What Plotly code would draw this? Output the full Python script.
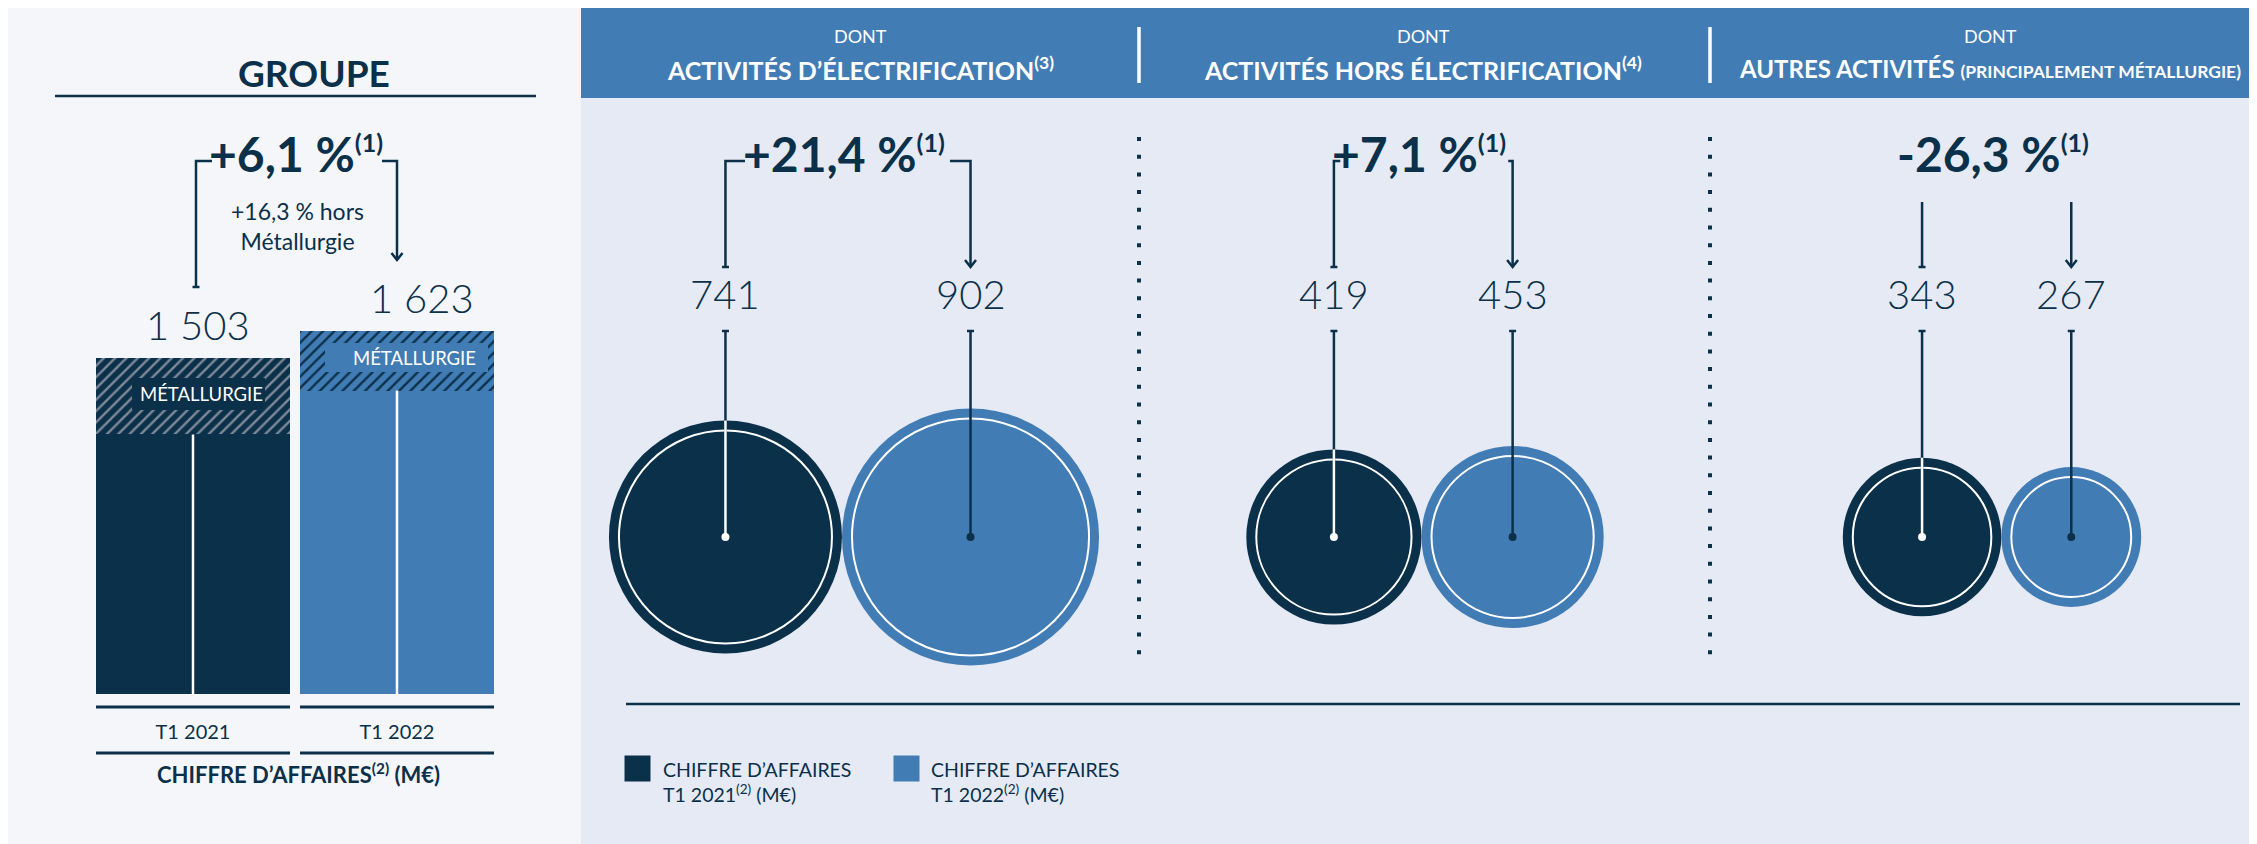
import math
import plotly.graph_objects as go

# ---------------- data ----------------
periods = ["T1 2021", "T1 2022"]
groupe_totals = [1503, 1623]
groupe_metallurgie = [343, 267]
groupe_growth = "+6,1 %"
groupe_note = "+16,3 % hors<br>Métallurgie"

segment_titles = [
    "ACTIVITÉS D’ÉLECTRIFICATION<sup>(3)</sup>",
    "ACTIVITÉS HORS ÉLECTRIFICATION<sup>(4)</sup>",
    "AUTRES ACTIVITÉS <span style='font-size:17.5px'>(PRINCIPALEMENT MÉTALLURGIE)</span>",
]
segment_2021 = [741, 419, 343]
segment_2022 = [902, 453, 267]
segment_growth = ["+21,4 %", "+7,1 %", "-26,3 %"]
legend_labels = ["CHIFFRE D’AFFAIRES<br>T1 2021<sup>(2)</sup> (M€)",
                 "CHIFFRE D’AFFAIRES<br>T1 2022<sup>(2)</sup> (M€)"]

# ---------------- style ----------------
NAVY = "#0B304A"
BLUE = "#427CB5"
LEFT_BG = "#F5F6FA"
RIGHT_BG = "#E6EAF4"
HATCH = "#7F8A99"
FONT = "Lato"

W, H = 2249, 836
OX, OY = 8, 8


def PX(x):
    return (x - OX) / W


def PY(y):
    return 1 - (y - OY) / H


def fmt(v):
    return f"{v:,}".replace(",", " ")


def B(t):
    return f"<b>{t}</b>"


fig = go.Figure()

# ---------------- bar chart (GROUPE) ----------------
SCALE = 0.2238  # px per M€
BAR_BOTTOM = 694
YMAX = 2000
base = [t - m for t, m in zip(groupe_totals, groupe_metallurgie)]
bar_cols = [NAVY, BLUE]
hatch_cols = [HATCH, NAVY]

fig.add_trace(go.Bar(x=periods, y=base, marker=dict(color=bar_cols, line=dict(width=0)),
                     showlegend=False, hoverinfo="skip"))
for p, m, bc, hc in zip(periods, groupe_metallurgie, bar_cols, hatch_cols):
    fig.add_trace(go.Bar(x=[p], y=[m],
                         marker=dict(color=bc, line=dict(width=0),
                                     pattern=dict(shape="/", fgcolor=hc, bgcolor=bc,
                                                  size=8, solidity=0.3, fgopacity=1,
                                                  fillmode="overlay")),
                         showlegend=False, hoverinfo="skip"))
sx, sy = [], []
for p, b in zip(periods, base):
    sx += [p, p, None]
    sy += [0, b, None]
fig.add_trace(go.Scatter(x=sx, y=sy, mode="lines", line=dict(color="white", width=2.5),
                         showlegend=False, hoverinfo="skip"))

# ---------------- bubble chart (segments) ----------------
K = 8.56          # diameter px per sqrt(M€)
CY = 537
pair_centers = [854, 1425, 1992]
x1s, x2s = [], []
for c, a, b in zip(pair_centers, segment_2021, segment_2022):
    r1, r2 = K * math.sqrt(a) / 2, K * math.sqrt(b) / 2
    x1s.append(c - r2)
    x2s.append(c + r1)

d21 = [K * math.sqrt(v) for v in segment_2021]
d22 = [K * math.sqrt(v) for v in segment_2022]

for xs, ds, col, name in [(x1s, d21, NAVY, periods[0]), (x2s, d22, BLUE, periods[1])]:
    fig.add_trace(go.Scatter(x=xs, y=[CY] * 3, mode="markers", name=name,
                             marker=dict(size=ds, color=col, opacity=1, line=dict(width=0)),
                             xaxis="x2", yaxis="y2", showlegend=False, hoverinfo="skip"))
    fig.add_trace(go.Scatter(x=xs, y=[CY] * 3, mode="markers",
                             marker=dict(size=[d - 20 for d in ds], color=col, opacity=1,
                                         line=dict(width=2, color="white")),
                             xaxis="x2", yaxis="y2", showlegend=False, hoverinfo="skip"))

# stems from value labels to centres
STEM_TOP = 331
lx, ly = [], []
for x in x1s + x2s:
    lx += [x, x, None, x - 3.5, x + 3.5, None]
    ly += [STEM_TOP, CY, None, STEM_TOP, STEM_TOP, None]
fig.add_trace(go.Scatter(x=lx, y=ly, mode="lines", line=dict(color=NAVY, width=2.5),
                         xaxis="x2", yaxis="y2", showlegend=False, hoverinfo="skip"))
wx, wy = [], []
for x, d in zip(x1s, d21):
    wx += [x, x, None]
    wy += [CY - d / 2, CY, None]
fig.add_trace(go.Scatter(x=wx, y=wy, mode="lines", line=dict(color="white", width=2.5),
                         xaxis="x2", yaxis="y2", showlegend=False, hoverinfo="skip"))
fig.add_trace(go.Scatter(x=x1s, y=[CY] * 3, mode="markers",
                         marker=dict(size=8, color="white", opacity=1),
                         xaxis="x2", yaxis="y2", showlegend=False, hoverinfo="skip"))
fig.add_trace(go.Scatter(x=x2s, y=[CY] * 3, mode="markers",
                         marker=dict(size=8, color=NAVY, opacity=1),
                         xaxis="x2", yaxis="y2", showlegend=False, hoverinfo="skip"))

# value labels
for xs, vals in [(x1s, segment_2021), (x2s, segment_2022)]:
    for x, v in zip(xs, vals):
        fig.add_annotation(x=x, y=294, xref="x2", yref="y2", text=fmt(v), showarrow=False,
                           xanchor="center", yanchor="middle",
                           font=dict(family=FONT, size=40, weight=300, color=NAVY))

# ---------------- growth brackets ----------------
BAR_C = [193, 397]
bx, by = [], []


def bracket(xl, xr, mid, gap_l, gap_r, top, bot_l, bot_r, horiz=True):
    global bx, by
    if horiz:
        bx += [mid - gap_l, xl, xl, None, mid + gap_r, xr, xr, None]
        by += [top, top, bot_l, None, top, top, bot_r, None]
    else:
        bx += [xl, xl, None, xr, xr, None]
        by += [top, bot_l, None, top, bot_r, None]
    bx += [xl - 3.5, xl + 3.5, None, xr - 5.5, xr, xr + 5.5, None]
    by += [bot_l, bot_l, None, bot_r - 7, bot_r, bot_r - 7, None]


gmid = (BAR_C[0] + BAR_C[1]) / 2
bracket(BAR_C[0] + 3, BAR_C[1], gmid, 83, 87, 161, 287, 260)
gaps = [(103, 102), (83, 85)]
for i in range(3):
    m = (x1s[i] + x2s[i]) / 2
    if i < 2:
        bracket(x1s[i], x2s[i], m, gaps[i][0], gaps[i][1], 161, 267, 267)
    else:
        bracket(x1s[i], x2s[i], m, 0, 0, 202, 267, 267, horiz=False)
fig.add_trace(go.Scatter(x=bx, y=by, mode="lines", line=dict(color=NAVY, width=2.5),
                         xaxis="x2", yaxis="y2", showlegend=False, hoverinfo="skip"))

SUP1 = "<sup><span style='font-size:25px'>(1)</span></sup>"
growth_pos = [(gmid + 1, groupe_growth)] + [((x1s[i] + x2s[i]) / 2 - 4, segment_growth[i]) for i in range(3)]
for x, g in growth_pos:
    fig.add_annotation(x=x, y=153, xref="x2", yref="y2", text=B(g + SUP1), showarrow=False,
                       xanchor="center", yanchor="middle",
                       font=dict(family=FONT, size=48, color=NAVY))

fig.add_annotation(x=297, y=226, xref="x2", yref="y2", text=groupe_note, showarrow=False,
                   xanchor="center", yanchor="middle", font=dict(family=FONT, size=23, color=NAVY))

# groupe value labels
for p, v, (xx, yy) in zip(periods, groupe_totals, [(198, 325), (422, 298)]):
    fig.add_annotation(x=xx, y=yy, xref="x2", yref="y2", text=fmt(v), showarrow=False,
                       xanchor="center", yanchor="middle",
                       font=dict(family=FONT, size=40, weight=300, color=NAVY))

# ---------------- decorations ----------------
shapes = []
# right panel + header
shapes.append(dict(type="rect", xref="paper", yref="paper", x0=PX(581), x1=1, y0=0, y1=PY(98),
                   fillcolor=RIGHT_BG, line=dict(width=0), layer="below"))
shapes.append(dict(type="rect", xref="paper", yref="paper", x0=PX(581), x1=1, y0=PY(98), y1=1,
                   fillcolor=BLUE, line=dict(width=0), layer="below"))
for xs_ in [1139, 1710]:
    shapes.append(dict(type="line", xref="paper", yref="paper", x0=PX(xs_), x1=PX(xs_),
                       y0=PY(27), y1=PY(83), line=dict(color="white", width=3.5)))
    shapes.append(dict(type="line", xref="paper", yref="paper", x0=PX(xs_), x1=PX(xs_),
                       y0=PY(137), y1=PY(665), line=dict(color=NAVY, width=4, dash="4px,13.7px")))
shapes.append(dict(type="line", xref="paper", yref="paper", x0=PX(626), x1=PX(2240),
                   y0=PY(704), y1=PY(704), line=dict(color=NAVY, width=2.5)))
# GROUPE underline
shapes.append(dict(type="line", xref="paper", yref="paper", x0=PX(55), x1=PX(536),
                   y0=PY(96), y1=PY(96), line=dict(color=NAVY, width=2.5)))
# lines under bars
for i in range(2):
    for yy in [707, 753]:
        shapes.append(dict(type="line", xref="x", yref="paper", x0=i - 0.4755, x1=i + 0.4755,
                           y0=PY(yy), y1=PY(yy), line=dict(color=NAVY, width=3)))
# métallurgie label boxes
for (x0, x1, y0, y1), col in [((132, 265, 378, 410), NAVY), ((325, 488, 343, 372), BLUE)]:
    shapes.append(dict(type="rect", xref="paper", yref="paper", x0=PX(x0), x1=PX(x1),
                       y0=PY(y1), y1=PY(y0), fillcolor=col, line=dict(width=0), layer="above"))
fig.update_layout(shapes=shapes)

for (xx, yy) in [(201, 394), (414, 358)]:
    fig.add_annotation(x=PX(xx), y=PY(yy), xref="paper", yref="paper", text="MÉTALLURGIE",
                       showarrow=False, xanchor="center", yanchor="middle",
                       font=dict(family=FONT, size=18.5, color="white"))

# titles
fig.add_annotation(x=PX(314), y=PY(73), xref="paper", yref="paper", text=B("GROUPE"), showarrow=False,
                   xanchor="center", yanchor="middle",
                   font=dict(family=FONT, size=37, color=NAVY))
for cx, title, sz in zip([860, 1423, 1990], segment_titles, [25, 25, 24]):
    fig.add_annotation(x=PX(cx), y=PY(36), xref="paper", yref="paper", text="DONT", showarrow=False,
                       xanchor="center", yanchor="middle", font=dict(family=FONT, size=18, color="white"))
    fig.add_annotation(x=PX(cx), y=PY(68), xref="paper", yref="paper", text=B(title), showarrow=False,
                       xanchor="center", yanchor="middle",
                       font=dict(family=FONT, size=sz, color="white"))

fig.add_annotation(x=PX(298), y=PY(773), xref="paper", yref="paper",
                   text=B("CHIFFRE D’AFFAIRES<sup>(2)</sup> (M€)"), showarrow=False,
                   xanchor="center", yanchor="middle",
                   font=dict(family=FONT, size=22, color=NAVY))

# legend (manual swatches)
fig.add_trace(go.Scatter(x=[637.5, 906.5], y=[768.5, 768.5], mode="markers",
                         marker=dict(symbol="square", size=26, color=[NAVY, BLUE], opacity=1),
                         xaxis="x2", yaxis="y2", showlegend=False, hoverinfo="skip"))
for xx, lab in zip([661, 929], legend_labels):
    fig.add_annotation(x=PX(xx), y=PY(781.5), xref="paper", yref="paper", text=lab, showarrow=False,
                       xanchor="left", yanchor="middle", align="left",
                       font=dict(family=FONT, size=19.5, color=NAVY))

fig.update_layout(
    width=W, height=H, autosize=False,
    margin=dict(l=0, r=0, t=0, b=0, pad=0),
    paper_bgcolor=LEFT_BG, plot_bgcolor="rgba(0,0,0,0)",
    barmode="stack", bargap=0.049, showlegend=False,
    font=dict(family=FONT, color=NAVY),
    xaxis=dict(domain=[PX(91), PX(499)], range=[-0.5, 1.5], type="category",
               showgrid=False, zeroline=False, showline=False, ticks="",
               tickfont=dict(family=FONT, size=20, color=NAVY), ticklabelstandoff=24,
               fixedrange=True),
    yaxis=dict(domain=[PY(BAR_BOTTOM), PY(BAR_BOTTOM - YMAX * SCALE)], range=[0, YMAX],
               visible=False, fixedrange=True),
    xaxis2=dict(domain=[0, 1], range=[OX, OX + W], visible=False, anchor="y2", fixedrange=True),
    yaxis2=dict(domain=[0, 1], range=[OY + H, OY], visible=False, anchor="x2", fixedrange=True),
)

fig.write_html("out.html")
